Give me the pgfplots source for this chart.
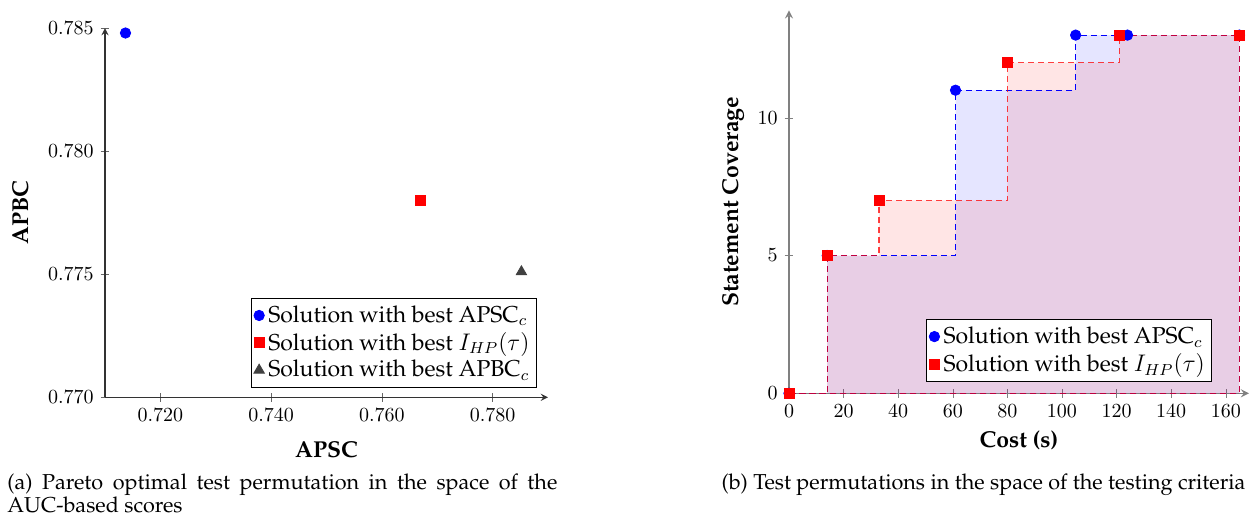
\documentclass[border=0pt]{standalone}
\usepackage[T1]{fontenc}
\usepackage{pgfplots}
\pgfplotsset{compat=1.18}
\renewcommand{\rmdefault}{ppl}
\begin{document}
\begin{tikzpicture}
\useasboundingbox (0,0) rectangle (625pt,258pt);
\begin{axis}[
  at={(52.5pt,59.35pt)}, anchor=south west,
  scale only axis, width=221.5pt, height=184.6pt,
  axis lines=left,
  axis line style={black!80, semithick},
  tick style={black!60},
  xmin=0.71, xmax=0.79, ymin=0.77, ymax=0.785,
  xtick={0.72,0.74,0.76,0.78}, ytick={0.77,0.775,0.78,0.785},
  xticklabel style={/pgf/number format/.cd, fixed, fixed zerofill, precision=3},
  yticklabel style={/pgf/number format/.cd, fixed, fixed zerofill, precision=3},
  scaled ticks=false,
  tick align=center,
  xlabel={APSC}, ylabel={APBC},
  label style={font=\fontsize{11.5}{13}\selectfont\bfseries},
  xlabel style={yshift=-3pt},
  ylabel style={yshift=3pt},
  clip=false,
  legend style={at={(0.975,0.027)}, anchor=south east, draw=black, row sep=-0.5pt,
    font=\fontsize{11.5}{13}\selectfont, inner sep=1.5pt},
  legend cell align=left,
]
\addplot[only marks, mark=*, blue, mark size=2.6pt] coordinates {(0.7137,0.7848)};
\addlegendentry{Solution with best APSC$_c$}
\addplot[only marks, mark=square*, red, mark size=2.5pt] coordinates {(0.7669,0.7780)};
\addlegendentry{Solution with best $I_{HP}(\tau)$}
\addplot[only marks, mark=triangle*, black!75, mark size=3pt] coordinates {(0.7852,0.7751)};
\addlegendentry{Solution with best APBC$_c$}
\end{axis}

\begin{axis}[
  at={(394.5pt,61.35pt)}, anchor=south west,
  scale only axis, width=230pt, height=191.5pt,
  axis lines=left,
  axis line style={gray, thick},
  tick style={gray},
  xmin=0, xmax=168.5, ymin=0, ymax=13.9,
  xtick={0,20,...,160}, ytick={0,5,10},
  tick align=center,
  xlabel={Cost (s)}, ylabel={Statement Coverage},
  label style={font=\fontsize{11.5}{13}\selectfont\bfseries},
  clip=false,
  legend style={at={(0.92,0.03)}, anchor=south east, draw=black, row sep=-0.5pt,
    font=\fontsize{11.5}{13}\selectfont, inner sep=1.5pt},
  legend cell align=left,
]
% fills
\addplot[const plot, draw=none, fill=blue, fill opacity=0.1, forget plot]
  coordinates {(0,0) (14,5) (61,11) (105,13) (124,13) (165,13)} \closedcycle;
\addplot[const plot, draw=none, fill=red, fill opacity=0.1, forget plot]
  coordinates {(0,0) (14,5) (33,7) (80,12) (121,13) (165,13)} \closedcycle;
% outlines
\addplot[const plot, draw=blue, line width=0.6pt, dash pattern=on 3pt off 2pt, fill=none, forget plot]
  coordinates {(0,0) (14,5) (61,11) (105,13) (124,13) (165,13) (165,0) (0,0)};
\addplot[const plot, draw=red, draw opacity=0.75, line width=0.6pt, dash pattern=on 3pt off 2pt, fill=none, forget plot]
  coordinates {(0,0) (14,5) (33,7) (80,12) (121,13) (165,13) (165,0) (0,0)};
% marks
\addplot[only marks, mark=*, blue, mark size=2.6pt, forget plot]
  coordinates {(0,0) (14,5) (61,11) (105,13) (124,13) (165,13)};
\addplot[only marks, mark=square*, red, mark size=2.5pt, forget plot]
  coordinates {(0,0) (14,5) (33,7) (80,12) (121,13) (165,13)};
\addlegendimage{only marks, mark=*, blue, mark size=2.6pt}
\addlegendentry{Solution with best APSC$_c$}
\addlegendimage{only marks, mark=square*, red, mark size=2.5pt}
\addlegendentry{Solution with best $I_{HP}(\tau)$}
\end{axis}

\node[anchor=north west, text width=275pt, align=justify, inner sep=0pt, font=\fontsize{10.8}{10}\selectfont] at (3.5pt,21.5pt)
  {\hyphenpenalty=10000 (a) Pareto optimal test permutation in the space of the AUC-based scores};
\node[anchor=north, inner sep=0pt, font=\fontsize{10.8}{10}\selectfont] at (491.75pt,21.5pt)
  {(b) Test permutations in the space of the testing criteria};
\end{tikzpicture}
\end{document}
